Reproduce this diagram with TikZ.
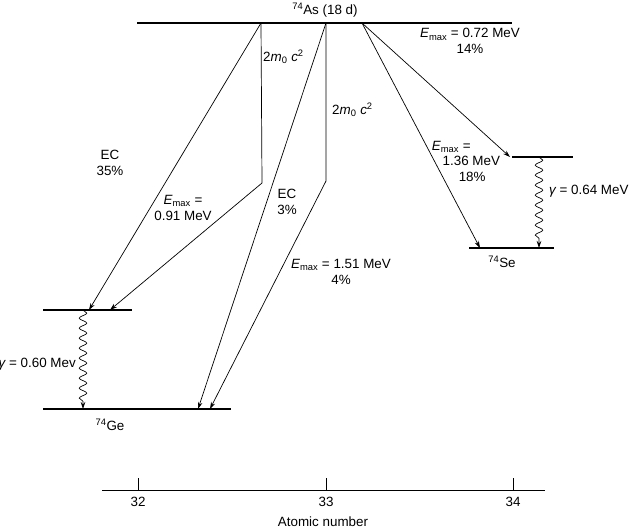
\documentclass[tikz,border=0pt]{standalone}
\usepackage{fontspec}
\setmainfont{Liberation Sans}
\usetikzlibrary{arrows.meta,decorations.pathmorphing}
\begin{document}
\begin{tikzpicture}[x=1pt,y=-1pt,
  level/.style={line width=1.6pt},
  arr/.style={line width=0.7pt,-{Stealth[length=7pt,width=4.5pt]}},
  wavy/.style={line width=0.7pt,decorate,decoration={snake,amplitude=3.8pt,segment length=10pt,post length=6pt},-{Stealth[length=7pt,width=4.5pt]}},
  lbl/.style={font=\fontsize{13.4}{15.5}\selectfont,inner sep=0pt,align=center},
  axisl/.style={line width=0.8pt}]
\useasboundingbox (0,0) rectangle (629,530);
% levels
\coordinate (asL) at (137,23); \coordinate (asR) at (512,23);
\coordinate (gexL) at (43,310); \coordinate (gexR) at (132,310);
\coordinate (ggL) at (43,409); \coordinate (ggR) at (231,409);
\coordinate (sexL) at (512,157); \coordinate (sexR) at (573,157);
\coordinate (sgL) at (469,248); \coordinate (sgR) at (554,248);
\draw[level] (asL) -- (asR);
\draw[level] (gexL) -- (gexR);
\draw[level] (ggL) -- (ggR);
\draw[level] (sexL) -- (sexR);
\draw[level] (sgL) -- (sgR);
% labels of levels
\node[lbl] (as) at (325,10) {\textsuperscript{74}As (18 d)};
\node[lbl] (ge) at (110,425) {\textsuperscript{74}Ge};
\node[lbl] (se) at (502,262) {\textsuperscript{74}Se};
% start points
\coordinate (a1) at (261,23);
\coordinate (a2) at (326,23);
\coordinate (a3) at (362,23);
\coordinate (b1) at (262,183);
\coordinate (b2) at (326,181);
% end points
\coordinate (e1) at (89,310);
\coordinate (e2) at (110,310);
\coordinate (e3) at (198,409);
\coordinate (e4) at (210,409);
\coordinate (e5) at (510,157);
\coordinate (e6) at (480,248);
% transitions
\draw[arr] (a1) -- (e1);
\draw[arr] (a1) -- (b1) -- (e2);
\draw[arr] (a2) -- (e3);
\draw[arr] (a2) -- (b2) -- (e4);
\draw[arr] (a3) -- (e5);
\draw[arr] (a3) -- (e6);
% gamma
\coordinate (g1t) at (83,310); \coordinate (g1b) at (83,409);
\coordinate (g2t) at (539,157); \coordinate (g2b) at (539,248);
\draw[wavy] (g1t) -- (g1b);
\draw[wavy] (g2t) -- (g2b);
% transition labels
\node[lbl,anchor=west] (l1) at (263,57) {2{\itshape m}\textsubscript{0} {\itshape c}\textsuperscript{2}};
\node[lbl,anchor=west] (l2) at (332,110) {2{\itshape m}\textsubscript{0} {\itshape c}\textsuperscript{2}};
\node[lbl] (l3) at (470,41) {{\itshape E}\textsubscript{max} = 0.72 MeV\\14\%};
\node[lbl,align=left] (l4) at (466,161) {{\itshape E}\textsubscript{max} =\\\hspace*{0.8em}1.36 MeV\\\hspace*{2.0em}18\%};
\node[lbl] (l5) at (110,163) {EC\\35\%};
\node[lbl] (l6) at (183,208) {{\itshape E}\textsubscript{max} =\\0.91 MeV};
\node[lbl] (l7) at (287,202) {EC\\3\%};
\node[lbl] (l8) at (341,272) {{\itshape E}\textsubscript{max} = 1.51 MeV\\4\%};
\node[lbl,anchor=east] (l9) at (76,364) {{\itshape γ} = 0.60 Mev};
\node[lbl,anchor=west] (l10) at (549,191) {{\itshape γ} = 0.64 MeV};
% axis
\coordinate (axL) at (102,490); \coordinate (axR) at (545,490);
\draw[axisl] (axL) -- (axR);
\coordinate (t32) at (138,490); \coordinate (t33) at (326,490); \coordinate (t34) at (513,490);
\draw[axisl] (t32) -- ++(0,-12);
\draw[axisl] (t33) -- ++(0,-12);
\draw[axisl] (t34) -- ++(0,-12);
\node[lbl] (n32) at (138,502) {32};
\node[lbl] (n33) at (326,502) {33};
\node[lbl] (n34) at (513,502) {34};
\node[lbl] (ax) at (323,522) {Atomic number};
\end{tikzpicture}
\end{document}
